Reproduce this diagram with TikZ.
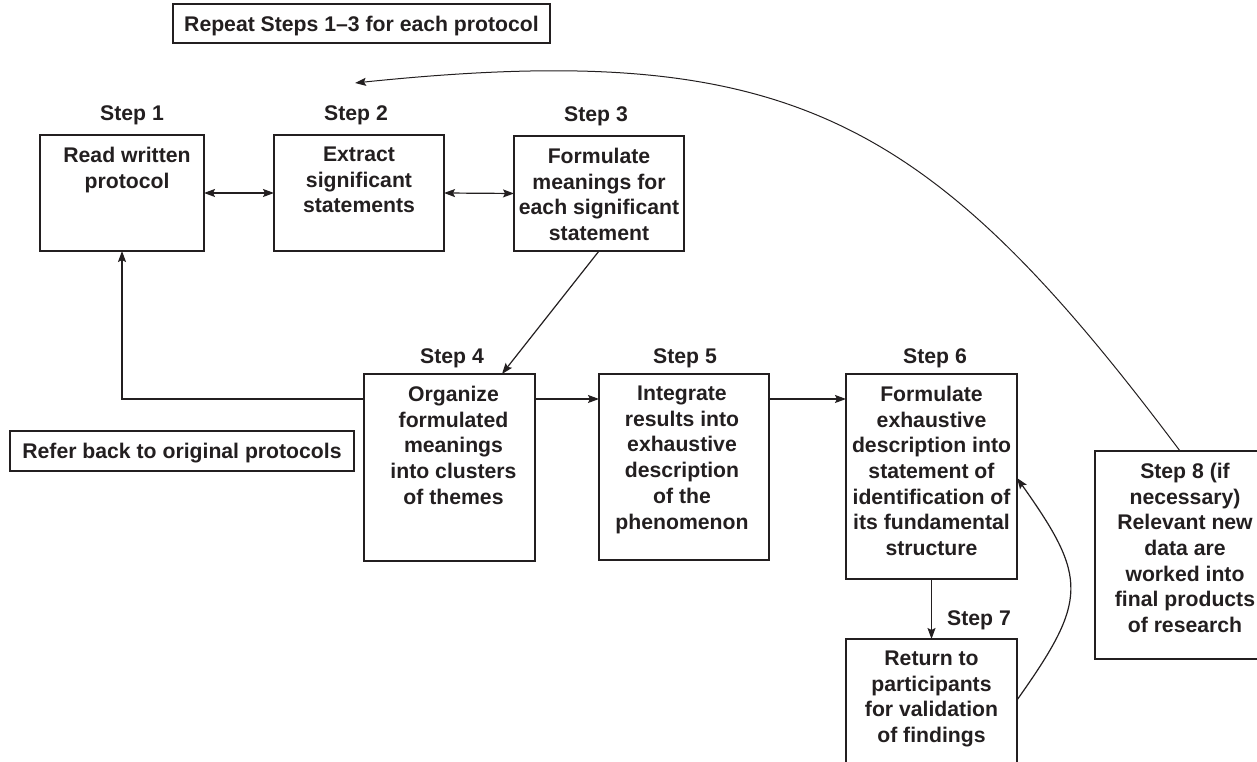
\documentclass[tikz,border=0pt]{standalone}
\usepackage{fontspec}
\setmainfont{Liberation Sans}
\usetikzlibrary{arrows.meta,calc}
\definecolor{ink}{HTML}{231F20}
\begin{document}
\begin{tikzpicture}[x=1pt,y=1pt,
  >={Stealth[length=11pt,width=8pt,inset=2pt]},
  every node/.style={inner sep=0pt, outer sep=0pt, text=ink,
    font=\fontsize{21.2}{25.7}\selectfont\bfseries},
  stepbox/.style={draw=ink, line width=1.4pt, rectangle},
  notebox/.style={stepbox, text depth=0pt},
  boxtext/.style={align=center, anchor=north},
  steplabel/.style={anchor=base},
  link/.style={draw=ink, line width=1.2pt},
  loop/.style={draw=ink, line width=1pt},
]
\useasboundingbox (0,0) rectangle (1257,762);
\clip (0,0) rectangle (1257,762);

% notes
\node[notebox, minimum width=377pt, minimum height=39pt] (rep) at (361.5,738.5)
  {Repeat Steps 1--3 for each protocol};
\node[notebox, minimum width=344pt, minimum height=40pt] (refer) at (182,311)
  {Refer back to original protocols};

% step boxes
\node[stepbox, minimum width=164pt, minimum height=116pt] (s1) at (122,569) {};
\node[stepbox, minimum width=170pt, minimum height=116pt] (s2) at (359,569) {};
\node[stepbox, minimum width=170pt, minimum height=115pt] (s3) at (599,568.5) {};
\node[stepbox, minimum width=171pt, minimum height=187pt] (s4) at (449.5,294.5) {};
\node[stepbox, minimum width=170pt, minimum height=186pt] (s5) at (684,295) {};
\node[stepbox, minimum width=171pt, minimum height=205pt] (s6) at (931.5,285.5) {};
\node[stepbox, minimum width=171pt, minimum height=140pt] (s7) at (931.5,53) {};
\node[stepbox, minimum width=180pt, minimum height=208pt] (s8) at (1185,207) {};

% step labels
\node[steplabel] (l1) at (132,641) {Step 1};
\node[steplabel] (l2) at (356,641) {Step 2};
\node[steplabel] (l3) at (596,640) {Step 3};
\node[steplabel] (l4) at (452,398) {Step 4};
\node[steplabel] (l5) at (685,398) {Step 5};
\node[steplabel] (l6) at (935,398) {Step 6};
\node[steplabel] (l7) at (979,136) {Step 7};

% box texts
\node[boxtext] (t1) at ([xshift=5pt,yshift=-12pt]s1.north) {Read written\\protocol};
\node[boxtext] (t2) at ([yshift=-12pt]s2.north) {Extract\\significant\\statements};
\node[boxtext] (t3) at ([yshift=-12pt]s3.north) {Formulate\\meanings for\\each significant\\statement};
\node[boxtext] (t4) at ([xshift=4pt,yshift=-12pt]s4.north) {Organize\\formulated\\meanings\\into clusters\\of themes};
\node[boxtext] (t5) at ([xshift=-2pt,yshift=-12pt]s5.north) {Integrate\\results into\\exhaustive\\description\\of the\\phenomenon};
\node[boxtext] (t6) at ([yshift=-12pt]s6.north) {Formulate\\exhaustive\\description into\\statement of\\identification of\\its fundamental\\structure};
\node[boxtext] (t7) at ([yshift=-12pt]s7.north) {Return to\\participants\\for validation\\of findings};
\node[boxtext] (t8) at ([yshift=-12pt]s8.north) {Step 8 (if\\necessary)\\Relevant new\\data are\\worked into\\final products\\of research};

% connectors
\draw[link, <->] (s1.east) -- (s2.west);
\draw[link, <->] (s2.east) -- (s3.west);
\draw[link, ->] (s3.south) -- ([xshift=52.5pt]s4.north);
\draw[link, ->] ($(s4.north west)+(0,-25)$) -| (s1.south);
\draw[link, ->] ($(s4.north east)+(0,-25)$) -- ($(s5.north west)+(0,-25)$);
\draw[link, ->] ($(s5.north east)+(0,-25)$) -- ($(s6.north west)+(0,-25)$);
\draw[link, ->] (s6.south) -- (s7.north);
\draw[link, ->] ($(s7.north east)+(0,-61)$) .. controls +(71,100) and +(71,-100) .. ($(s6.north east)+(0,-104)$);

% return loop from step 8
\coordinate (loopend) at (355,679);
\draw[loop, ->] ([xshift=-5pt]s8.north) .. controls +(-252,336) and +(435,45) .. (loopend);
\end{tikzpicture}
\end{document}
